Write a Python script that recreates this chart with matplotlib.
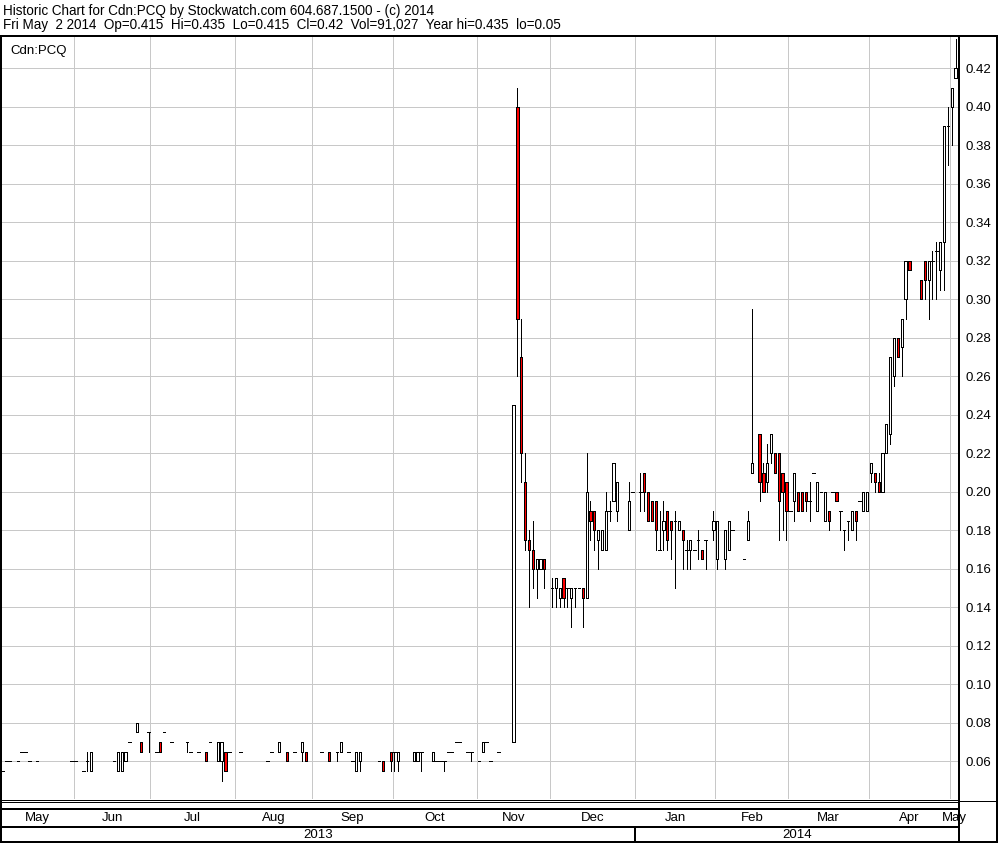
import numpy as np
import matplotlib
matplotlib.use("Agg")
import matplotlib.pyplot as plt
import matplotlib.transforms as mtransforms
from matplotlib.lines import Line2D

plt.rcParams['font.family'] = ['Liberation Sans', 'DejaVu Sans']

# ---------------- data (trading-day index, OHLC) ----------------
day_idx = [0, 1, 2, 4, 5, 6, 7, 9, 18, 19,
           21, 22, 23, 29, 30, 31, 32, 33, 35, 36,
           38, 40, 41, 42, 44, 48, 49, 51, 53, 54,
           56, 57, 58, 59, 62, 69, 70, 72, 74, 76,
           78, 79, 83, 85, 87, 88, 90, 91, 92, 93,
           98, 99, 101, 102, 103, 107, 108, 109, 112, 113,
           114, 115, 116, 117, 118, 119, 121, 122, 124, 125,
           126, 127, 129,
           133, 134, 135, 136, 137, 138, 139, 140, 141, 143,
           144, 145, 146, 147, 148, 149, 150, 151, 152, 153,
           154, 155, 156, 157, 158, 159, 160, 163, 164, 166,
           167, 168, 169, 170, 171, 172, 173, 174, 175, 176,
           177, 178, 179, 180, 181, 182, 183, 185, 186, 188,
           189, 190, 193, 194, 195, 197, 198, 199, 200, 201,
           202, 203, 204, 205, 206, 207, 208, 209, 210, 211,
           212, 213, 214, 215, 216, 217, 218, 219, 220, 221,
           222, 223, 224, 225, 226, 227, 228, 229, 230, 231,
           232, 233, 234, 235, 236, 239, 240, 241, 242, 243,
           244, 245, 246, 247, 248]

opens = [.055, .06, .06, .06, .065, .065, .06, .06, .06, .06,
         .055, .06, .055, .06, .055, .055, .06, .07, .075, .07,
         .075, .065, .07, .075, .07, .07, .065, .065, .065, .07,
         .06, .06, .065, .065, .065, .06, .065, .065, .065, .065,
         .065, .065, .065, .065, .065, .065, .065, .06, .055, .06,
         .06, .06, .065, .065, .06, .06, .06, .065, .06, .06,
         .06, .06, .065, .065, .07, .07, .065, .065, .06, .065,
         .07, .06, .065,
         .07, .40, .27, .205, .175, .17, .16, .16, .165, .15,
         .15, .145, .155, .15, .145, .15, .15, .15, .145, .19,
         .19, .175, .17, .17, .19, .195, .19, .18, .20, .20,
         .21, .20, .195, .195, .17, .18, .19, .185, .185, .18,
         .18, .17, .17, .17, .175, .17, .175, .18, .165, .165,
         .17, .18, .165, .175, .21, .23, .21, .205, .22, .22,
         .22, .21, .205, .19, .195, .20, .20, .20, .195, .21,
         .19, .20, .185, .19, .20, .20, .19, .18, .185, .18,
         .19, .195, .19, .19, .21, .21, .205, .20, .22, .23,
         .26, .28, .275, .30, .32, .31, .32, .31, .32, .325,
         .315, .33, .39, .40, .415]

highs = [.055, .06, .06, .06, .065, .065, .06, .06, .06, .06,
         .055, .065, .065, .06, .065, .065, .065, .07, .08, .07,
         .075, .065, .07, .075, .07, .07, .065, .065, .065, .07,
         .07, .07, .065, .065, .065, .06, .065, .07, .065, .065,
         .07, .065, .065, .065, .065, .07, .065, .06, .065, .065,
         .06, .06, .065, .065, .065, .065, .065, .065, .065, .06,
         .06, .06, .065, .065, .07, .07, .065, .065, .06, .07,
         .07, .06, .065,
         .245, .41, .29, .22, .18, .185, .165, .165, .165, .155,
         .155, .15, .155, .15, .15, .15, .15, .15, .22, .195,
         .19, .18, .18, .20, .195, .215, .205, .205, .20, .21,
         .21, .20, .195, .195, .19, .195, .19, .185, .19, .185,
         .18, .175, .175, .17, .18, .17, .175, .19, .185, .18,
         .185, .18, .165, .19, .295, .23, .215, .225, .23, .22,
         .22, .21, .205, .19, .21, .20, .20, .20, .205, .21,
         .205, .20, .20, .19, .20, .20, .19, .18, .185, .19,
         .19, .195, .20, .20, .215, .21, .21, .22, .235, .27,
         .28, .28, .29, .32, .32, .31, .32, .32, .325, .33,
         .33, .39, .40, .41, .435]

lows = [.055, .06, .06, .06, .065, .065, .06, .06, .06, .06,
        .055, .055, .055, .06, .055, .055, .06, .07, .075, .065,
        .065, .065, .065, .075, .07, .065, .065, .065, .06, .07,
        .06, .05, .055, .065, .065, .06, .065, .065, .06, .065,
        .06, .06, .065, .06, .06, .065, .065, .06, .055, .055,
        .06, .055, .055, .055, .055, .06, .06, .055, .06, .06,
        .06, .055, .065, .065, .07, .07, .065, .06, .06, .065,
        .07, .06, .065,
        .07, .26, .205, .17, .14, .15, .145, .16, .15, .14,
        .14, .14, .14, .14, .13, .14, .15, .13, .145, .175,
        .17, .16, .17, .17, .185, .195, .185, .18, .20, .19,
        .19, .185, .185, .17, .17, .17, .17, .165, .15, .18,
        .16, .16, .16, .17, .165, .165, .16, .175, .16, .16,
        .17, .18, .165, .175, .21, .195, .20, .20, .215, .21,
        .175, .18, .175, .19, .185, .19, .19, .19, .185, .21,
        .19, .20, .185, .18, .20, .195, .18, .17, .175, .18,
        .175, .195, .19, .19, .205, .20, .20, .20, .22, .225,
        .255, .27, .26, .29, .315, .30, .30, .29, .30, .30,
        .305, .305, .37, .38, .415]

closes = [.055, .06, .06, .06, .065, .065, .06, .06, .06, .06,
          .055, .06, .065, .06, .065, .065, .065, .07, .08, .065,
          .075, .065, .065, .075, .07, .07, .065, .065, .06, .07,
          .07, .07, .055, .065, .065, .06, .065, .07, .06, .065,
          .07, .06, .065, .06, .065, .07, .065, .06, .065, .065,
          .06, .055, .06, .065, .065, .065, .065, .065, .065, .06,
          .06, .06, .065, .065, .07, .07, .065, .065, .06, .07,
          .07, .06, .065,
          .245, .29, .22, .175, .17, .16, .165, .165, .16, .15,
          .155, .15, .145, .15, .15, .15, .15, .145, .20, .185,
          .18, .18, .18, .19, .19, .215, .205, .195, .20, .20,
          .20, .185, .185, .18, .17, .185, .175, .18, .185, .185,
          .175, .17, .175, .17, .175, .165, .175, .185, .185, .18,
          .185, .18, .165, .185, .215, .205, .20, .215, .23, .21,
          .195, .20, .19, .19, .21, .19, .19, .195, .195, .21,
          .205, .20, .20, .185, .20, .195, .19, .18, .185, .19,
          .185, .195, .20, .20, .215, .205, .20, .22, .235, .27,
          .28, .27, .29, .32, .315, .30, .31, .32, .32, .325,
          .33, .39, .39, .41, .42]

month_labels = ['May', 'Jun', 'Jul', 'Aug', 'Sep', 'Oct', 'Nov', 'Dec',
                'Jan', 'Feb', 'Mar', 'Apr', 'May']
month_starts = [0, 19, 39, 61, 81, 102, 124, 143, 165, 186, 205, 226, 247]
year_labels = ['2013', '2014']
year_starts = [0, 165]
price_ticks = [0.06, 0.08, 0.10, 0.12, 0.14, 0.16, 0.18, 0.20, 0.22, 0.24,
               0.26, 0.28, 0.30, 0.32, 0.34, 0.36, 0.38, 0.40, 0.42]

header1 = "Historic Chart for Cdn:PCQ by Stockwatch.com 604.687.1500 - (c) 2014"
header2 = ("Fri May  2 2014  Op=0.415  Hi=0.435  Lo=0.415  Cl=0.42  "
           "Vol=91,027  Year hi=0.435  lo=0.05")
symbol = "Cdn:PCQ"

# ---------------- layout ----------------
W, H = 1000, 843
fig = plt.figure(figsize=(W / 100, H / 100), dpi=100)
fig.patch.set_facecolor('white')


def fx(px):
    return px / W


def fy(py):
    return 1 - py / H


PL, PR, PT, PB = 1.5, 959.0, 36.0, 799.3
XMIN, XMAX = -0.26, 248.9
ax = fig.add_axes([fx(PL), fy(PB), (PR - PL) / W, (PB - PT) / H])
ax.set_xlim(XMIN, XMAX)
ax.set_ylim(0.0403, 0.4368)
for s in ax.spines.values():
    s.set_visible(False)
ax.set_facecolor('white')

PX = 0.72  # one pixel in points
FS = 9.5
HFS = 9.75

# grid
ax.set_yticks(price_ticks)
ax.set_yticklabels([f"{v:.2f}" for v in price_ticks])
ax.yaxis.tick_right()
ax.tick_params(axis='y', length=0, pad=4.5, labelsize=FS, colors='black')
ax.set_xticks(np.array(month_starts[1:]) - 0.5)
ax.tick_params(axis='x', length=0, labelbottom=False)
ax.grid(True, color='#C8C8C8', linewidth=PX, zorder=0)
ax.set_axisbelow(True)

# candles
x = np.array(day_idx, dtype=float)
o = np.array(opens)
h = np.array(highs)
l = np.array(lows)
c = np.array(closes)

wick = h > l
ax.vlines(x[wick], l[wick], h[wick], colors='black', linewidth=PX, zorder=2,
          antialiased=False)
body = np.abs(c - o) > 1e-9
bottoms = np.minimum(o, c)
heights = np.abs(c - o)
fills = np.where(c >= o, 'white', '#FF0000')
ax.bar(x[body], heights[body], bottom=bottoms[body], width=0.58,
       color=list(fills[body]), edgecolor='black', linewidth=PX, zorder=3,
       antialiased=False)
flat = ~body
ax.hlines(o[flat], x[flat] - 0.34, x[flat] + 0.34, colors='black',
          linewidth=PX, zorder=3, antialiased=False)

ax.text(fx(10), fy(54), symbol, transform=fig.transFigure, fontsize=FS,
        ha='left', va='baseline')

# ---------------- frame and bottom bands ----------------
def fline(x0, y0, x1, y1, w=2):
    fig.add_artist(Line2D([fx(x0), fx(x1)], [fy(y0), fy(y1)],
                          transform=fig.transFigure, color='black',
                          linewidth=w * PX, solid_capstyle='butt'))


fline(0, 35.5, 998, 35.5, 2)          # header divider
fline(1, 35.5, 1, 842, 2)             # left border
fline(959, 35.5, 959, 842, 2)         # right axis line
fline(997, 35.5, 997, 842, 2)         # right border
fline(0, 799.5, 959, 799.5, 1)
fline(0, 802, 959, 802, 1)
fline(959, 800.7, 997, 800.7, 1)
fline(0, 809.3, 959, 809.3, 2)
fline(0, 826.7, 959, 826.7, 2)
fline(0, 841.7, 998, 841.7, 2)

blend = mtransforms.blended_transform_factory(ax.transData, fig.transFigure)

bounds = [XMIN] + [s - 0.5 for s in month_starts[1:]] + [XMAX]
for i, lab in enumerate(month_labels):
    cx = 0.5 * (bounds[i] + bounds[i + 1])
    ax.text(cx, fy(818.3), lab, transform=blend, ha='center', va='center',
            fontsize=FS, clip_on=False)

ybounds = [XMIN] + [s - 0.5 for s in year_starts[1:]] + [XMAX]
for i, lab in enumerate(year_labels):
    cx = 0.5 * (ybounds[i] + ybounds[i + 1])
    ax.text(cx, fy(834.5), lab, transform=blend, ha='center', va='center',
            fontsize=FS, clip_on=False)
for s in year_starts[1:]:
    fig.add_artist(Line2D([s - 0.5, s - 0.5], [fy(826.7), fy(841.7)],
                          transform=blend, color='black', linewidth=2 * PX))

# ---------------- header ----------------
fig.text(fx(3), fy(14.5), header1, fontsize=HFS, ha='left', va='baseline')
fig.text(fx(3), fy(29.5), header2, fontsize=HFS, ha='left', va='baseline')

fig.savefig('out.png', dpi=100, facecolor='white')
